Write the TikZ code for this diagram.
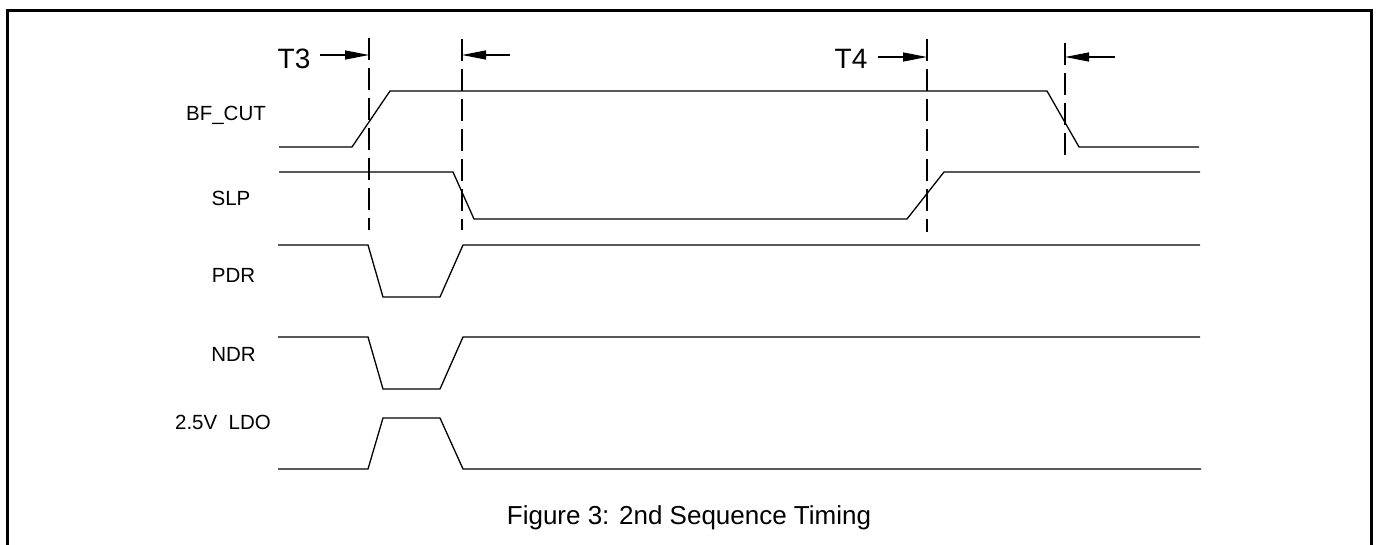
\documentclass[tikz,border=0pt]{standalone}
\usepackage{fontspec}
\setmainfont{Liberation Sans}
\usetikzlibrary{arrows.meta}
\begin{document}
\begin{tikzpicture}[x=1pt,y=-1pt,
  sig/.style={line width=1.3pt, line join=miter},
  guide/.style={line width=1.2pt, dash pattern=on 22pt off 8pt},
  meas/.style={line width=1.2pt, -{Triangle[length=24pt,width=9pt]}},
  lbl/.style={font=\fontsize{20.5}{22}\selectfont, inner sep=0pt, anchor=base},
  tlbl/.style={font=\fontsize{28}{30}\selectfont, inner sep=0pt, anchor=base},
  captext/.style={font=\fontsize{26}{28}\selectfont, inner sep=0pt, anchor=base}]
\useasboundingbox (0,0) rectangle (1379,544);
\clip (0,0) rectangle (1379,544);
% frame
\draw[line width=3pt] (7,550) -- (7,10) -- (1371,10) -- (1371,550);

% signal labels
\node[lbl] (lbf)  at (226,120) {BF\_CUT};
\node[lbl] (lslp) at (231,205) {SLP};
\node[lbl] (lpdr) at (233.5,282) {PDR};
\node[lbl] (lndr) at (233.5,361) {NDR};
\node[lbl] (lldo) at (223,429) {2.5V\ \ LDO};

% timing labels
\node[tlbl] (t3) at (294,68) {T3};
\node[tlbl] (t4) at (851,68) {T4};

% guide lines
\coordinate (g1a) at (369,38);  \coordinate (g1b) at (369,230);
\coordinate (g2a) at (462,39);  \coordinate (g2b) at (462,230);
\coordinate (g3a) at (927,39);  \coordinate (g3b) at (927,232);
\coordinate (g4a) at (1065,43); \coordinate (g4b) at (1065,155);
\draw[guide] (g1a) -- (g1b);
\draw[guide] (g2a) -- (g2b);
\draw[guide] (g3a) -- (g3b);
\draw[guide] (g4a) -- (g4b);

% measurement arrows
\coordinate (a1t) at (320,55);  \coordinate (a1h) at (369,55);
\coordinate (a2t) at (510,55);  \coordinate (a2h) at (462,55);
\coordinate (a3t) at (878,57);  \coordinate (a3h) at (927,57);
\coordinate (a4t) at (1115,57); \coordinate (a4h) at (1065,57);
\draw[meas] (a1t) -- (a1h);
\draw[meas] (a2t) -- (a2h);
\draw[meas] (a3t) -- (a3h);
\draw[meas] (a4t) -- (a4h);

% waveforms
\draw[sig] (279,147) -- (352,147) -- (390,91) -- (1047,91) -- (1079,147) -- (1199,147);
\draw[sig] (279,172) -- (453,172) -- (474,219) -- (907,219) -- (944,172) -- (1200,172);
\draw[sig] (278,245) -- (368,245) -- (383,297) -- (440,297) -- (463,245) -- (1200,245);
\draw[sig] (278,337) -- (368,337) -- (383,389) -- (440,389) -- (463,337) -- (1200,337);
\draw[sig] (278,469) -- (368,469) -- (383,418) -- (440,418) -- (463,469) -- (1201,469);

% caption
\node[captext] (caption) at (689,524) {Figure 3: 2nd Sequence Timing};
\end{tikzpicture}
\end{document}
